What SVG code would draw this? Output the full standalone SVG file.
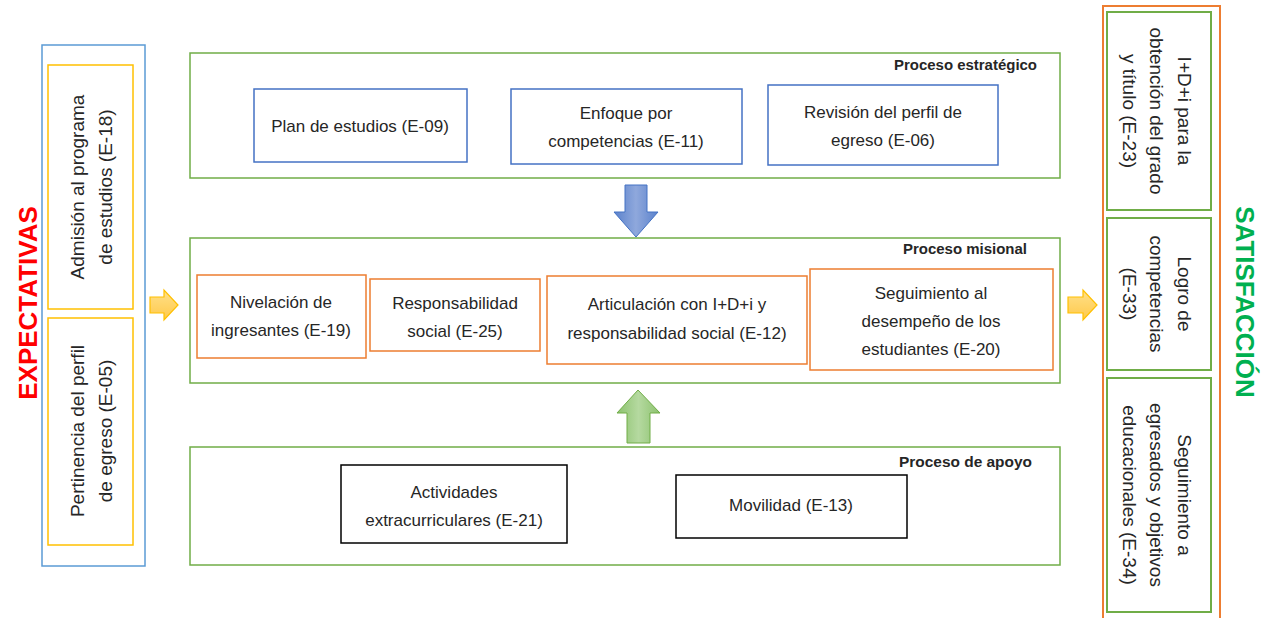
<svg xmlns="http://www.w3.org/2000/svg" width="1275" height="618" viewBox="0 0 1275 618">
<defs>
<linearGradient id="gY" x1="0" y1="0" x2="0" y2="1"><stop offset="0" stop-color="#FFE08A"/><stop offset="1" stop-color="#FFC94A"/></linearGradient>
<linearGradient id="gB" x1="0" y1="0" x2="1" y2="0"><stop offset="0" stop-color="#5B82CC"/><stop offset="0.5" stop-color="#8FA8DC"/><stop offset="1" stop-color="#5B82CC"/></linearGradient>
<linearGradient id="gG" x1="0" y1="0" x2="1" y2="0"><stop offset="0" stop-color="#8CC26E"/><stop offset="0.5" stop-color="#B5D9A0"/><stop offset="1" stop-color="#8CC26E"/></linearGradient>
</defs>
<style>
text{font-family:"Liberation Sans",Arial,sans-serif;fill:#262626}
.t{font-size:17px;text-anchor:middle}
.r{font-size:19px;text-anchor:middle}
.lab{font-size:14px;font-weight:bold;text-anchor:end}
.proc{fill:#fff;stroke:#70AD47;stroke-width:1.5}
.bl{fill:#fff;stroke:#4472C4;stroke-width:1.5}
.or{fill:#fff;stroke:#ED7D31;stroke-width:1.5}
.bk{fill:#fff;stroke:#000;stroke-width:1.5}
.ye{fill:#fff;stroke:#FFC000;stroke-width:1.5}
.gr{fill:#fff;stroke:#70AD47;stroke-width:2}
</style>
<rect width="1275" height="618" fill="#fff"/>

<g id="expectativas">
<text transform="translate(28,303) rotate(-90)" text-anchor="middle" y="9" style="font-size:26px;font-weight:bold;fill:#FF0000">EXPECTATIVAS</text>
<rect x="42" y="45" width="103" height="521" fill="#fff" stroke="#5B9BD5" stroke-width="1.5"/>
</g>
<g id="e18">
<rect class="ye" x="48" y="65" width="85" height="244"/>
<g transform="translate(90,187) rotate(-90)"><text class="r" y="-6">Admisión al programa</text><text class="r" y="22">de estudios (E-18)</text></g>
</g>
<g id="e05">
<rect class="ye" x="48" y="318" width="85" height="227"/>
<g transform="translate(90,431) rotate(-90)"><text class="r" y="-6">Pertinencia del perfil</text><text class="r" y="22">de egreso (E-05)</text></g>
</g>

<g id="estrategico">
<rect class="proc" x="190" y="53" width="870" height="125"/>
<text class="lab" x="1037" y="70" textLength="143" lengthAdjust="spacingAndGlyphs">Proceso estratégico</text>
</g>
<g id="e09"><rect class="bl" x="254" y="89" width="213" height="73"/><text class="t" x="360" y="132">Plan de estudios (E-09)</text></g>
<g id="e11"><rect class="bl" x="511" y="89" width="231" height="75"/><text class="t" x="626" y="119">Enfoque por</text><text class="t" x="626" y="147">competencias (E-11)</text></g>
<g id="e06"><rect class="bl" x="768" y="85" width="230" height="80"/><text class="t" x="883" y="118">Revisión del perfil de</text><text class="t" x="883" y="146">egreso (E-06)</text></g>

<g id="misional">
<rect class="proc" x="190" y="238" width="870" height="145"/>
<text class="lab" x="1027" y="254" textLength="124" lengthAdjust="spacingAndGlyphs">Proceso misional</text>
</g>
<g id="e19"><rect class="or" x="197" y="275" width="169" height="83"/><text class="t" x="281" y="308">Nivelación de</text><text class="t" x="281" y="336">ingresantes (E-19)</text></g>
<g id="e25"><rect class="or" x="370" y="279" width="170" height="72"/><text class="t" x="455" y="309">Responsabilidad</text><text class="t" x="455" y="337">social (E-25)</text></g>
<g id="e12"><rect class="or" x="547" y="276" width="260" height="88"/><text class="t" x="677" y="310">Articulación con I+D+i y</text><text class="t" x="677" y="339">responsabilidad social (E-12)</text></g>
<g id="e20"><rect class="or" x="810" y="269" width="243" height="101"/><text class="t" x="931" y="299">Seguimiento al</text><text class="t" x="931" y="327">desempeño de los</text><text class="t" x="931" y="355">estudiantes (E-20)</text></g>

<g id="apoyo">
<rect class="proc" x="190" y="447" width="870" height="118"/>
<text class="lab" x="1032" y="467" textLength="133" lengthAdjust="spacingAndGlyphs">Proceso de apoyo</text>
</g>
<g id="e21"><rect class="bk" x="341" y="465" width="226" height="78"/><text class="t" x="454" y="498">Actividades</text><text class="t" x="454" y="526">extracurriculares (E-21)</text></g>
<g id="e13"><rect class="bk" x="676" y="475" width="231" height="63"/><text class="t" x="791" y="511">Movilidad (E-13)</text></g>

<g id="satisfaccion">
<rect x="1103" y="6" width="117" height="620" fill="#fff" stroke="#ED7D31" stroke-width="2"/>
<text transform="translate(1245,302) rotate(90)" text-anchor="middle" y="9" style="font-size:26px;font-weight:bold;fill:#00B050">SATISFACCIÓN</text>
</g>
<g id="e23"><rect class="gr" x="1107" y="12" width="104" height="198"/>
<g transform="translate(1158,111) rotate(90)"><text class="r" y="-20">I+D+i para la</text><text class="r" y="8">obtención del grado</text><text class="r" y="35">y título (E-23)</text></g></g>
<g id="e33"><rect class="gr" x="1107" y="218" width="104" height="152"/>
<g transform="translate(1158,294) rotate(90)"><text class="r" y="-20">Logro de</text><text class="r" y="8">competencias</text><text class="r" y="35">(E-33)</text></g></g>
<g id="e34"><rect class="gr" x="1107" y="378" width="104" height="234"/>
<g transform="translate(1158,495) rotate(90)"><text class="r" y="-20">Seguimiento a</text><text class="r" y="8">egresados y objetivos</text><text class="r" y="35">educacionales (E-34)</text></g></g>

<g id="connectors">
<path d="M150,297 H164 V290 L178,305 L164,320 V313 H150 Z" fill="url(#gY)" stroke="#FFC000" stroke-width="1.2"/>
<path d="M1068,297 H1083 V290 L1097,305 L1083,320 V313 H1068 Z" fill="url(#gY)" stroke="#FFC000" stroke-width="1.2"/>
<path d="M625,185 H647 V212 H658 L636,237 L614,212 H625 Z" fill="url(#gB)" stroke="#4472C4" stroke-width="1"/>
<path d="M638,390 L660,413 H650 V443 H627 V413 H617 Z" fill="url(#gG)" stroke="#70AD47" stroke-width="1"/>
</g>
</svg>
